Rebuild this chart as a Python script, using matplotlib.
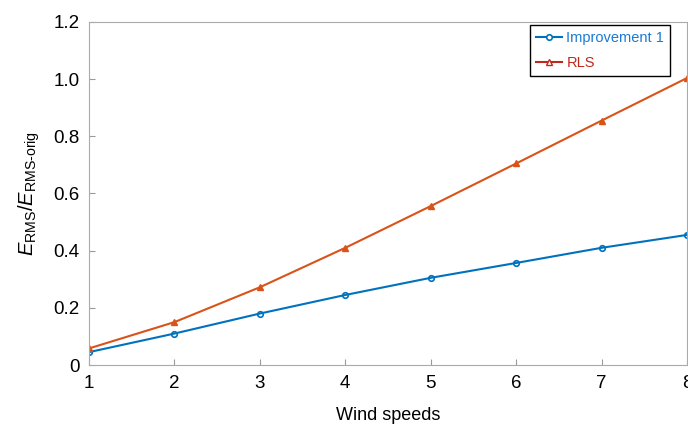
import matplotlib.pyplot as plt

plt.rcParams['font.family'] = ['Liberation Sans', 'DejaVu Sans']
plt.rcParams['mathtext.fontset'] = 'custom'
plt.rcParams['mathtext.rm'] = 'Liberation Sans'
plt.rcParams['mathtext.it'] = 'Liberation Sans:italic'

wind = [1, 2, 3, 4, 5, 6, 7, 8]
improvement1 = [0.045, 0.11, 0.18, 0.245, 0.305, 0.357, 0.41, 0.455]
rls = [0.058, 0.15, 0.272, 0.41, 0.556, 0.705, 0.855, 1.004]
yticks = [0, 0.2, 0.4, 0.6, 0.8, 1.0, 1.2]
ytick_labels = ["0", "0.2", "0.4", "0.6", "0.8", "1.0", "1.2"]

blue = "#0072BD"
orange = "#D95319"

fig = plt.figure(figsize=(6.88, 4.24), dpi=100)
ax = fig.add_axes([89/688, 1-365/424, 598/688, 343/424])

ax.plot(wind, improvement1, color=blue, lw=1.5, marker="o", ms=4,
        mfc="none", mew=1.2, label="Improvement 1")
ax.plot(wind, rls, color=orange, lw=1.5, marker="^", ms=4.5,
        mfc=orange, mew=1.0, label="RLS")

ax.set_xlim(1, 8)
ax.set_ylim(0, 1.2)
ax.set_xticks(wind)
ax.set_yticks(yticks)
ax.set_yticklabels(ytick_labels)
ax.tick_params(direction="in", length=4, color="#999999", labelsize=13.5, pad=7)
for s in ax.spines.values():
    s.set_color("#aaaaaa")
    s.set_linewidth(0.8)

ax.set_xlabel("Wind speeds", fontsize=13, labelpad=11)
ax.set_ylabel(r"$E_{\mathrm{RMS}}/E_{\mathrm{RMS}\text{-}\mathrm{orig}}$", fontsize=14.5, labelpad=8)

leg = ax.legend(loc="upper right", bbox_to_anchor=(0.9716, 0.99), fontsize=10.5,
                fancybox=False, edgecolor="black", framealpha=1,
                handlelength=1.8, handletextpad=0.3, borderpad=0.4,
                labelspacing=0.75, borderaxespad=0)
leg.get_frame().set_linewidth(1.0)
leg.get_texts()[0].set_color("#1a7ad4")
leg.get_texts()[1].set_color("#C0281C")
leg.get_lines()[0].set_markerfacecolor("white")
leg.get_lines()[1].set_markerfacecolor("white")
leg.get_lines()[1].set_color("#C0281C")
leg.get_lines()[1].set_markeredgecolor("#C0281C")

fig.savefig("out.png", dpi=100)
